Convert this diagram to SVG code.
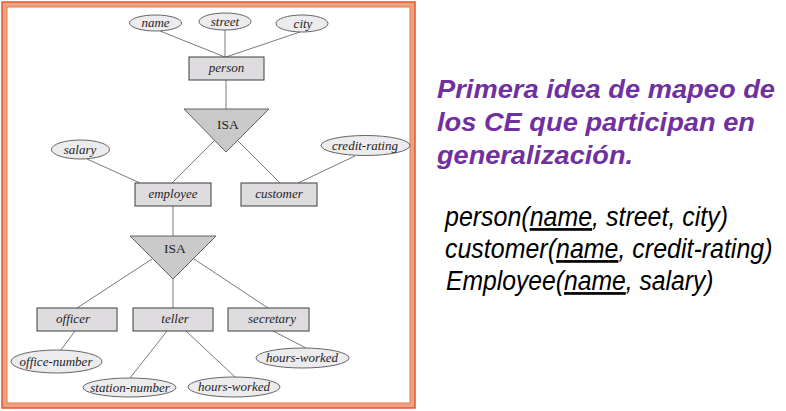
<svg xmlns="http://www.w3.org/2000/svg" width="786" height="411" viewBox="0 0 786 411">
<style>
.ent{fill:#dedcdf;stroke:#3c3c3c;stroke-width:1}
.att{fill:#ecebee;stroke:#555;stroke-width:0.9}
.isa{fill:#c9c9c9;stroke:#555;stroke-width:0.9}
.lbl{font-family:"Liberation Serif",serif;font-style:italic;font-size:13px;fill:#1e1e1e;text-anchor:middle}
.isat{font-family:"Liberation Serif",serif;font-size:13.5px;fill:#1e1e1e;text-anchor:middle}
.conn line{stroke:#7a7a7a;stroke-width:1}
.ttl{font-family:"Liberation Sans",Arial,sans-serif;font-weight:bold;font-style:italic;font-size:25px;fill:#7030a0}
.rel{font-family:"Liberation Sans",Arial,sans-serif;font-style:italic;font-size:27px;fill:#000}
.u{text-decoration:underline}
</style>
<rect width="786" height="411" fill="#fff"/>
<g id="frame" fill="none">
<rect x="4.5" y="4.5" width="408" height="401" stroke="#efa283" stroke-width="5"/>
<rect x="2" y="2" width="413" height="406" stroke="#dd5a30" stroke-width="1.5"/>
<rect x="7" y="7" width="403" height="396" stroke="#e6784f" stroke-width="1"/>
</g>
<g id="connectors" class="conn">
<line x1="160" y1="31" x2="225" y2="57"/>
<line x1="225" y1="30" x2="225" y2="57"/>
<line x1="300" y1="32" x2="226" y2="57"/>
<line x1="226" y1="80" x2="226" y2="109"/>
<line x1="87" y1="159" x2="140" y2="183"/>
<line x1="214" y1="141" x2="172" y2="183"/>
<line x1="238" y1="141" x2="280" y2="183"/>
<line x1="355" y1="156" x2="298" y2="183"/>
<line x1="173" y1="206" x2="173" y2="236"/>
<line x1="152" y1="259" x2="77" y2="308"/>
<line x1="173" y1="279" x2="173" y2="308"/>
<line x1="194" y1="259" x2="268" y2="308"/>
<line x1="75" y1="331" x2="61" y2="350"/>
<line x1="167" y1="331" x2="130" y2="378"/>
<line x1="186" y1="331" x2="235" y2="377"/>
<line x1="273" y1="331" x2="306" y2="348"/>
</g>
<g id="name"><ellipse class="att" cx="155.5" cy="23" rx="26" ry="8"/><text class="lbl" x="155.5" y="27">name</text></g>
<g id="street"><ellipse class="att" cx="225" cy="21.5" rx="26" ry="8.5"/><text class="lbl" x="225" y="25.5">street</text></g>
<g id="city"><ellipse class="att" cx="302" cy="23.5" rx="26" ry="8.5"/><text class="lbl" x="303" y="27.5">city</text></g>
<g id="person"><rect class="ent" x="189" y="57" width="75" height="23"/><text class="lbl" x="226.5" y="72">person</text></g>
<g id="isa1"><polygon class="isa" points="184,109 269,109 226,152"/><text class="isat" x="228" y="129">ISA</text></g>
<g id="salary"><ellipse class="att" cx="80.5" cy="149.5" rx="29" ry="9.5"/><text class="lbl" x="80" y="153.5">salary</text></g>
<g id="credit-rating"><ellipse class="att" cx="365.5" cy="145.5" rx="44.5" ry="10"/><text class="lbl" x="365" y="149.5">credit-rating</text></g>
<g id="employee"><rect class="ent" x="135" y="183" width="76" height="23"/><text class="lbl" x="173" y="198">employee</text></g>
<g id="customer"><rect class="ent" x="241" y="183" width="76" height="23"/><text class="lbl" x="279" y="198">customer</text></g>
<g id="isa2"><polygon class="isa" points="130,236 216,236 173,279"/><text class="isat" x="175" y="253">ISA</text></g>
<g id="officer"><rect class="ent" x="37" y="308" width="80" height="23"/><text class="lbl" x="73" y="323">officer</text></g>
<g id="teller"><rect class="ent" x="133" y="308" width="80" height="23"/><text class="lbl" x="175" y="323">teller</text></g>
<g id="secretary"><rect class="ent" x="228" y="308" width="81" height="23"/><text class="lbl" x="272" y="323">secretary</text></g>
<g id="office-number"><ellipse class="att" cx="56.5" cy="361.5" rx="45.5" ry="11.5"/><text class="lbl" x="56" y="365.5">office-number</text></g>
<g id="station-number"><ellipse class="att" cx="129.5" cy="387.5" rx="46.5" ry="9.5"/><text class="lbl" x="130" y="391.5">station-number</text></g>
<g id="hours-worked-teller"><ellipse class="att" cx="234" cy="387" rx="46" ry="10"/><text class="lbl" x="234" y="391">hours-worked</text></g>
<g id="hours-worked-secretary"><ellipse class="att" cx="302.5" cy="358" rx="46.5" ry="10"/><text class="lbl" x="302" y="362">hours-worked</text></g>
<g id="title">
<text class="ttl" x="437" y="98" textLength="338" lengthAdjust="spacingAndGlyphs">Primera idea de mapeo de</text>
<text class="ttl" x="437" y="131" textLength="318" lengthAdjust="spacingAndGlyphs">los CE que participan en</text>
<text class="ttl" x="437" y="164" textLength="196" lengthAdjust="spacingAndGlyphs">generalización.</text>
</g>
<g id="relations">
<text class="rel" transform="translate(445,226) scale(0.925,1)">person(<tspan class="u">name</tspan>, street, city)</text>
<text class="rel" transform="translate(445,258) scale(0.925,1)">customer(<tspan class="u">name</tspan>, credit-rating)</text>
<text class="rel" transform="translate(446,290) scale(0.915,1)">Employee(<tspan class="u">name</tspan>, salary)</text>
</g>
</svg>
